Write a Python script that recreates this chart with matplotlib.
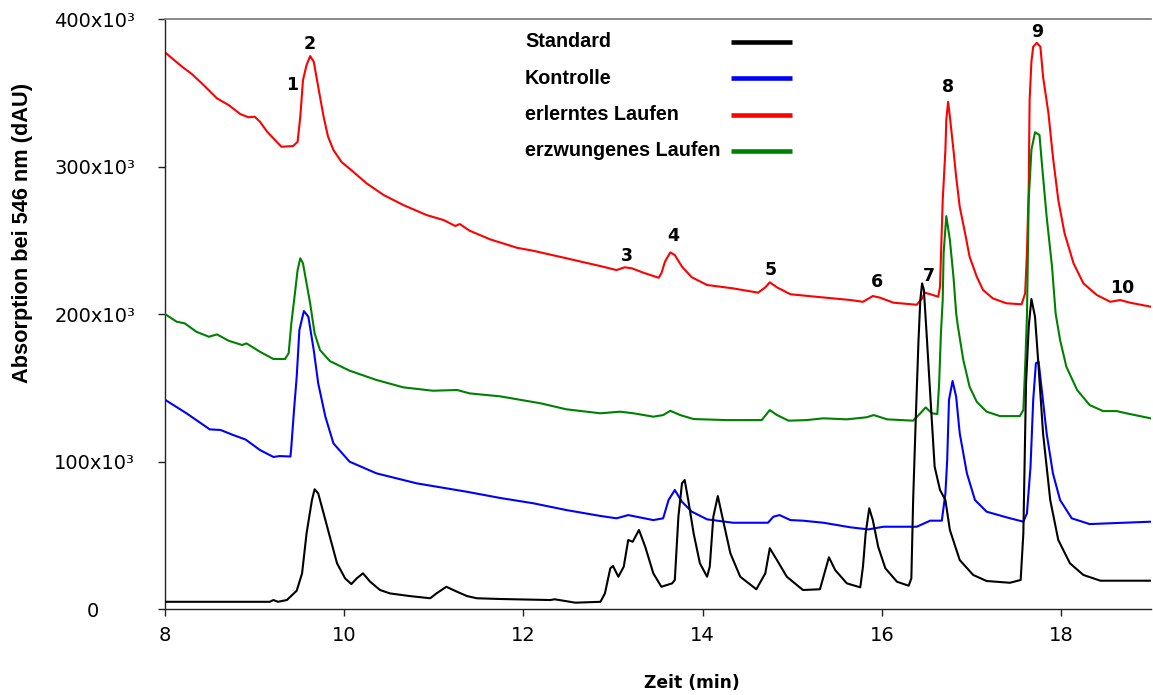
import matplotlib
matplotlib.use("Agg")
import matplotlib.pyplot as plt

# retention time (min) and absorption (x10^3 dAU)
black_t = [8.00, 9.17, 9.21, 9.26, 9.36, 9.47, 9.53, 9.58, 9.64, 9.67, 9.71, 9.77, 9.84, 9.92, 10.01,
           10.08, 10.14, 10.21, 10.29, 10.40, 10.51, 10.73, 10.96, 11.03, 11.14, 11.26, 11.37, 11.48,
           11.74, 12.30, 12.35, 12.58, 12.86, 12.91, 12.97, 13.00, 13.06, 13.12, 13.17, 13.22, 13.29,
           13.36, 13.45, 13.54, 13.66, 13.69, 13.73, 13.77, 13.80, 13.84, 13.90, 13.97, 14.05, 14.08,
           14.12, 14.17, 14.22, 14.31, 14.42, 14.60, 14.70, 14.75, 14.83, 14.94, 15.12, 15.31, 15.37,
           15.41, 15.48, 15.61, 15.76, 15.79, 15.82, 15.86, 15.90, 15.96, 16.04, 16.17, 16.30, 16.33,
           16.35, 16.38, 16.41, 16.43, 16.45, 16.47, 16.50, 16.54, 16.59, 16.65, 16.71, 16.76, 16.87,
           17.02, 17.17, 17.43, 17.55, 17.58, 17.61, 17.64, 17.67, 17.71, 17.75, 17.80, 17.88, 17.97,
           18.10, 18.25, 18.44, 19.00]
black_v = [4.9, 4.9, 6.1, 4.9, 6.1, 12.4, 24.2, 51.3, 73.9, 81.2, 78.4, 64.9, 49.0, 31.0, 20.8,
           16.9, 20.8, 24.2, 18.5, 12.9, 10.6, 8.8, 7.3, 10.6, 15.1, 11.7, 8.8, 7.3,
           6.8, 6.1, 6.6, 4.3, 4.9, 10.6, 27.6, 29.2, 21.9, 28.7, 46.8, 45.6, 53.6,
           42.2, 24.2, 15.1, 17.4, 19.7, 62.6, 85.2, 87.5, 73.9, 51.3, 31.0, 21.9, 28.7,
           62.6, 76.6, 62.6, 37.8, 21.9, 13.4, 24.2, 41.2, 33.2, 21.9, 12.9, 13.4, 26.4,
           35.1, 26.4, 17.4, 14.7, 28.7, 51.3, 68.3, 60.3, 42.2, 27.6, 18.5, 15.8, 20.8,
           73.9, 130.4, 182.4, 209.5, 220.8, 216.3, 186.9, 146.2, 96.5, 80.7, 73.9, 53.6, 33.2,
           23.1, 19.0, 17.8, 19.7, 51.3, 153.0, 191.4, 210.2, 198.2, 164.3, 119.1, 73.9, 46.8,
           31.0, 23.1, 19.2, 19.2]

blue_t = [8.00, 8.24, 8.50, 8.62, 8.76, 8.90, 9.06, 9.21, 9.28, 9.40, 9.41, 9.44, 9.47, 9.50, 9.55,
          9.60, 9.66, 9.71, 9.79, 9.88, 10.06, 10.36, 10.81, 11.37, 11.74, 12.11, 12.48, 12.86, 13.04,
          13.17, 13.45, 13.56, 13.62, 13.69, 13.77, 13.88, 14.05, 14.34, 14.73, 14.79, 14.86, 14.98,
          15.12, 15.35, 15.65, 15.85, 16.02, 16.39, 16.54, 16.67, 16.71, 16.73, 16.75, 16.79, 16.83,
          16.87, 16.95, 17.04, 17.17, 17.39, 17.58, 17.62, 17.66, 17.69, 17.72, 17.75, 17.79, 17.84,
          17.91, 17.99, 18.12, 18.32, 19.00]
blue_v = [141.9, 132.7, 121.8, 121.4, 118.0, 114.9, 107.8, 103.1, 103.7, 103.4, 110.0, 134.9, 157.5, 189.2, 202.0,
          198.2, 175.6, 153.0, 130.4, 112.3, 99.9, 92.0, 85.2, 79.5, 75.3, 71.7, 67.1, 63.1, 61.5,
          63.7, 60.3, 61.5, 73.9, 80.7, 72.7, 66.0, 60.8, 58.5, 58.5, 62.6, 63.7, 60.3,
          59.9, 58.5, 55.4, 54.0, 55.8, 55.8, 59.9, 59.9, 78.4, 101.0, 141.7, 154.6, 143.9,
          119.1, 92.0, 73.9, 66.0, 62.2, 59.2, 64.9, 96.5, 141.7, 166.6, 167.7, 146.2, 119.1,
          92.0, 73.9, 61.5, 57.6, 59.2]

red_t = [8.00, 8.19, 8.30, 8.43, 8.58, 8.71, 8.84, 8.93, 9.00, 9.06, 9.14, 9.21, 9.30, 9.43, 9.48,
         9.51, 9.54, 9.58, 9.62, 9.66, 9.71, 9.77, 9.82, 9.88, 9.97, 10.10, 10.25, 10.44, 10.66, 10.92,
         11.11, 11.24, 11.29, 11.40, 11.63, 11.93, 12.11, 12.48, 12.86, 13.04, 13.13, 13.21, 13.34,
         13.51, 13.54, 13.58, 13.64, 13.69, 13.77, 13.88, 14.05, 14.34, 14.62, 14.70, 14.75, 14.83,
         14.98, 15.27, 15.65, 15.79, 15.90, 15.98, 16.13, 16.39, 16.45, 16.48, 16.57, 16.63, 16.65,
         16.68, 16.71, 16.72, 16.74, 16.76, 16.80, 16.83, 16.87, 16.93, 16.98, 17.06, 17.13, 17.24,
         17.39, 17.56, 17.60, 17.62, 17.64, 17.65, 17.67, 17.69, 17.73, 17.77, 17.80, 17.86, 17.91,
         17.97, 18.04, 18.14, 18.25, 18.40, 18.55, 18.66, 18.77, 19.00]
red_v = [377.4, 367.7, 362.7, 355.3, 346.2, 341.7, 335.6, 333.4, 333.8, 330.4, 323.6, 319.1, 313.4, 313.9, 316.8,
         333.8, 358.6, 368.8, 374.9, 371.1, 354.1, 333.8, 320.2, 311.2, 303.1, 296.5, 288.6, 280.7, 273.9, 267.1,
         263.7, 259.7, 261.0, 256.5, 250.6, 244.9, 242.9, 237.8, 232.5, 229.8, 231.7, 231.0, 228.0,
         224.6, 227.6, 235.5, 241.8, 240.0, 232.1, 224.9, 219.7, 217.4, 214.5, 218.1, 221.5, 218.1,
         213.4, 211.7, 209.5, 208.3, 212.2, 211.1, 207.7, 206.3, 210.6, 214.5, 212.9, 211.7, 218.5,
         277.3, 311.2, 331.5, 343.9, 333.8, 311.2, 293.1, 272.7, 254.7, 238.9, 225.3, 216.3, 210.6,
         207.3, 206.6, 214.0, 241.2, 286.3, 345.1, 371.1, 381.2, 383.9, 381.2, 360.9, 336.1, 306.6,
         277.3, 254.7, 234.4, 220.8, 212.9, 208.3, 209.5, 207.7, 205.0]

green_t = [8.00, 8.13, 8.22, 8.35, 8.49, 8.58, 8.71, 8.86, 8.91, 9.06, 9.21, 9.34, 9.38, 9.41, 9.45,
           9.48, 9.51, 9.54, 9.58, 9.62, 9.67, 9.73, 9.84, 10.06, 10.36, 10.66, 10.99, 11.26, 11.40,
           11.74, 12.19, 12.48, 12.86, 13.08, 13.23, 13.45, 13.56, 13.64, 13.75, 13.90, 14.27, 14.66,
           14.75, 14.83, 14.96, 15.16, 15.35, 15.61, 15.83, 15.91, 16.06, 16.35, 16.43, 16.49, 16.56,
           16.62, 16.64, 16.66, 16.68, 16.69, 16.72, 16.76, 16.80, 16.83, 16.85, 16.91, 16.98, 17.06,
           17.17, 17.32, 17.54, 17.58, 17.60, 17.62, 17.64, 17.67, 17.71, 17.76, 17.79, 17.84, 17.90,
           17.94, 17.99, 18.06, 18.18, 18.32, 18.47, 18.62, 18.73, 19.00]
green_v = [200.0, 194.8, 193.7, 188.0, 184.6, 186.2, 181.9, 179.0, 180.1, 174.4, 169.5, 169.5, 173.4, 193.7, 214.0,
           229.8, 237.8, 234.4, 220.8, 207.3, 186.9, 175.6, 168.1, 161.6, 155.3, 150.3, 148.0, 148.5, 146.2,
           144.2, 139.5, 135.4, 132.7, 133.8, 132.7, 130.4, 131.5, 134.4, 131.5, 128.8, 128.1, 128.1,
           134.9, 131.5, 127.7, 128.1, 129.3, 128.6, 130.0, 131.5, 128.6, 127.7, 132.7, 136.7, 132.7,
           132.2, 153.0, 186.9, 209.5, 241.2, 266.4, 250.2, 225.3, 200.7, 191.4, 168.8, 150.7, 140.5,
           133.8, 130.8, 130.8, 134.9, 164.3, 198.2, 277.3, 311.2, 323.2, 321.4, 299.9, 266.0, 232.1,
           200.5, 182.4, 164.3, 148.5, 138.3, 134.2, 134.2, 132.7, 129.3]

series_names = ["Standard", "Kontrolle", "erlerntes Laufen", "erzwungenes Laufen"]
series_colors = ["black", "#0000ff", "#ff0000", "#008000"]

peak_labels = ["1", "2", "3", "4", "5", "6", "7", "8", "9", "10"]
peak_t = [9.42, 9.62, 13.15, 13.67, 14.76, 15.95, 16.53, 16.74, 17.73, 18.68]
peak_v = [355.3, 383.1, 239.3, 252.9, 229.8, 221.7, 225.8, 353.9, 391.2, 217.6]

y_ticks = [0, 100, 200, 300, 400]
x_ticks = [8, 10, 12, 14, 16, 18]

fig = plt.figure(figsize=(11.53, 6.95), dpi=100)
ax = fig.add_axes([0.1431, 0.1237, 0.8548, 0.8489])

traces = [(black_t, black_v), (blue_t, blue_v), (red_t, red_v), (green_t, green_v)]
zorders = [5, 4, 2, 3]
for (t, v), col, z in zip(traces, series_colors, zorders):
    ax.plot(t, v, color=col, lw=1.5, zorder=z)

ax.set_xlim(8, 19)
ax.set_ylim(0, 400)

# spines: dark left/bottom, grey frame line on top
ax.spines['right'].set_visible(False)
ax.spines['top'].set_color('#808080')
ax.spines['top'].set_linewidth(1.3)
for s in ['left', 'bottom']:
    ax.spines[s].set_color('#222222')
    ax.spines[s].set_linewidth(1.0)

ax.set_xticks(x_ticks)
ax.set_xticklabels([str(x) for x in x_ticks])
ax.set_yticks(y_ticks)
ax.set_yticklabels(["" if y == 0 else f"{y}x10³" for y in y_ticks])
ax.tick_params(axis='both', direction='out', length=5, width=1, color='#222222', labelsize=14)
ax.tick_params(axis='y', pad=16.5)
ax.tick_params(axis='x', pad=7.5)

# the zero label sits further left in the original
ax.annotate("0", xy=(0, 0), xycoords=('axes fraction', 'data'), xytext=(-47.5, 0),
            textcoords='offset points', ha='right', va='center_baseline', fontsize=14)

ax.set_xlabel("Zeit (min)", fontsize=12.3, fontweight='bold')
ax.xaxis.set_label_coords(0.535, -0.110)
ax.set_ylabel("Absorption bei 546 nm (dAU)", fontsize=15.7, fontweight='bold',
              family='Liberation Sans')
ax.yaxis.set_label_coords(-0.134, 0.638)

# peak numbers
for lab, t, v in zip(peak_labels, peak_t, peak_v):
    ax.text(t, v, lab, ha='center', va='center', fontsize=12.5, fontweight='bold', zorder=6)

# legend: text left-aligned, line samples in a column to the right
leg_y0, leg_dy = 0.9615, 0.0617
for i, (name, col) in enumerate(zip(series_names, series_colors)):
    yy = leg_y0 - i * leg_dy
    ax.text(0.3653, yy, name, transform=ax.transAxes, ha='left', va='center',
            fontsize=14.2, fontweight='bold', family='Liberation Sans')
    ax.plot([0.5743, 0.6362], [yy, yy], transform=ax.transAxes, color=col, lw=3.3,
            solid_capstyle='butt', clip_on=False)

fig.savefig("out.png", dpi=100)
